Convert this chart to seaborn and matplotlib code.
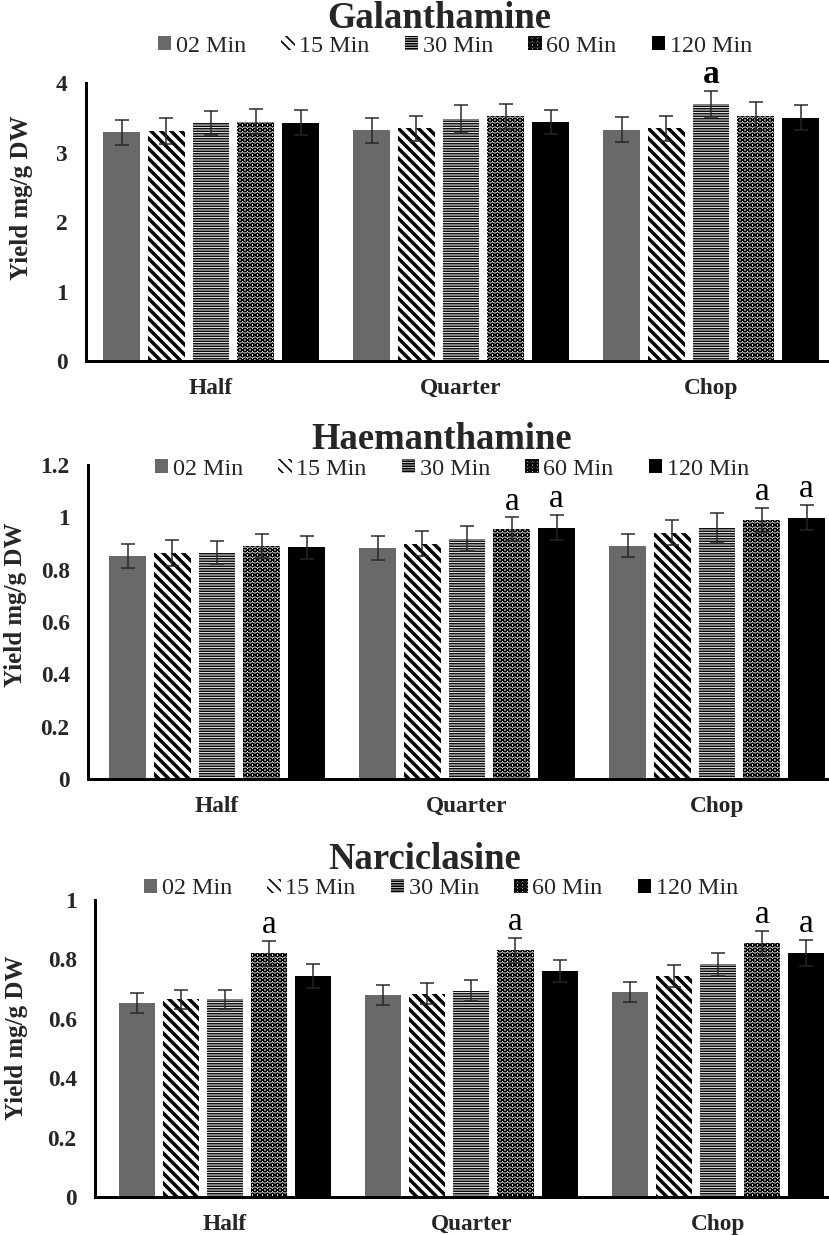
import matplotlib
matplotlib.use("Agg")
import matplotlib.pyplot as plt
import seaborn as sns
import pandas as pd
import numpy as np

# ---------------- data ----------------
cuts = ["Half", "Quarter", "Chop"]
times = ["02 Min", "15 Min", "30 Min", "60 Min", "120 Min"]

galan_02 = [3.29, 3.32, 3.33]
galan_15 = [3.31, 3.35, 3.35]
galan_30 = [3.42, 3.48, 3.70]
galan_60 = [3.44, 3.52, 3.53]
galan_120 = [3.43, 3.44, 3.50]
galan_err_02 = [0.18, 0.18, 0.18]
galan_err_15 = [0.19, 0.18, 0.18]
galan_err_30 = [0.17, 0.20, 0.19]
galan_err_60 = [0.18, 0.18, 0.20]
galan_err_120 = [0.18, 0.17, 0.18]

haem_02 = [0.852, 0.883, 0.892]
haem_15 = [0.865, 0.900, 0.941]
haem_30 = [0.865, 0.919, 0.960]
haem_60 = [0.890, 0.954, 0.990]
haem_120 = [0.885, 0.960, 0.999]
haem_err_02 = [0.045, 0.045, 0.045]
haem_err_15 = [0.050, 0.046, 0.047]
haem_err_30 = [0.045, 0.046, 0.058]
haem_err_60 = [0.045, 0.046, 0.047]
haem_err_120 = [0.045, 0.048, 0.047]

narc_02 = [0.654, 0.680, 0.690]
narc_15 = [0.665, 0.685, 0.745]
narc_30 = [0.665, 0.695, 0.783]
narc_60 = [0.820, 0.830, 0.854]
narc_120 = [0.744, 0.761, 0.822]
narc_err_02 = [0.034, 0.035, 0.035]
narc_err_15 = [0.033, 0.035, 0.037]
narc_err_30 = [0.033, 0.035, 0.040]
narc_err_60 = [0.042, 0.042, 0.042]
narc_err_120 = [0.040, 0.037, 0.043]

titles = ["Galanthamine", "Haemanthamine", "Narciclasine"]
ylims = [4.0, 1.2, 1.0]
ysteps = [1.0, 0.2, 0.2]
# significance letters: (cut index, time index)
sig_galan = [(2, 2)]
sig_haem = [(1, 3), (1, 4), (2, 3), (2, 4)]
sig_narc = [(0, 3), (1, 3), (2, 3), (2, 4)]

panels = [
    ([galan_02, galan_15, galan_30, galan_60, galan_120],
     [galan_err_02, galan_err_15, galan_err_30, galan_err_60, galan_err_120], sig_galan),
    ([haem_02, haem_15, haem_30, haem_60, haem_120],
     [haem_err_02, haem_err_15, haem_err_30, haem_err_60, haem_err_120], sig_haem),
    ([narc_02, narc_15, narc_30, narc_60, narc_120],
     [narc_err_02, narc_err_15, narc_err_30, narc_err_60, narc_err_120], sig_narc),
]

# ---------------- style ----------------
sns.set_theme(style="white")
SERIF = ["Liberation Serif", "DejaVu Serif"]
plt.rcParams["font.family"] = SERIF
plt.rcParams["hatch.linewidth"] = 2.0

W, H, DPI = 829, 1235, 60
fig = plt.figure(figsize=(W / DPI, H / DPI), dpi=DPI)

# axes boxes in pixels: left, right, top, bottom
boxes = [(86, 829, 83, 361), (88, 829, 465, 779), (95, 829, 900, 1197)]
xlims = [(-0.5, 2.472), (-0.516, 2.448), (-0.527, 2.451)]
title_pos = [(439, 28), (442, 449), (425, 869)]
legend_pos = [(455, 46), (452, 469), (441, 889)]
ylabel_x = [33, 27, 28]
ylabel_y = [198, 605, 1038]

face = ["#696969", "white", "#dcdcdc", "white", "black"]
hatches = [None, "\\\\", "----", "OO", None]
hatch_lw = [0, 4.2, 1.6, 1.6, 0]

for p, ((vals, errs, sig), box) in enumerate(zip(panels, boxes)):
    l, r, t, b = box
    ax = fig.add_axes([l / W, 1 - b / H, (r - l) / W, (b - t) / H])
    rows = []
    for ti, tname in enumerate(times):
        for ci, c in enumerate(cuts):
            rows.append({"Cut": c, "Time": tname, "Yield": vals[ti][ci]})
    df = pd.DataFrame(rows)
    sns.barplot(data=df, x="Cut", y="Yield", hue="Time", order=cuts,
                hue_order=times, palette=face, width=0.895, gap=0.18,
                errorbar=None, legend=False, ax=ax, saturation=1)
    bar_conts = list(ax.containers)
    for ti, cont in enumerate(bar_conts):
        xs, ys = [], []
        for ci, bar in enumerate(cont):
            bar.set_facecolor(face[ti])
            if hatches[ti]:
                bar.set_hatch(hatches[ti])
                bar.set_edgecolor("black")
                if hasattr(bar, "set_hatch_linewidth"):
                    bar.set_hatch_linewidth(hatch_lw[ti])
            else:
                bar.set_edgecolor(face[ti])
            bar.set_linewidth(0)
            xs.append(bar.get_x() + bar.get_width() / 2)
            ys.append(bar.get_height())
        ax.errorbar(xs, ys, yerr=errs[ti], fmt="none", ecolor="#262626",
                    elinewidth=1.8, capsize=8, capthick=1.8, zorder=5)
        for (ci, tj) in sig:
            if tj == ti:
                ax.annotate("a", (xs[ci], ys[ci] + errs[ti][ci]),
                            xytext=(0, 1), textcoords="offset points",
                            ha="center", va="bottom", fontsize=40,
                            fontweight="bold" if p == 0 else "normal",
                            color="black", zorder=6)

    ax.set_xlim(*xlims[p])
    ax.set_ylim(0, ylims[p])
    ticks = np.arange(0, ylims[p] + 1e-9, ysteps[p])
    ax.set_yticks(ticks)
    ax.set_yticklabels([f"{v:g}" for v in ticks], fontsize=28, fontweight="bold")
    ax.set_xticks(range(len(cuts)))
    ax.set_xticklabels(cuts, fontsize=28, fontweight="bold")
    ax.tick_params(axis="both", length=0)
    ax.tick_params(axis="y", pad=22)
    ax.tick_params(axis="x", pad=20)
    ax.set_xlabel("")
    ax.set_ylabel("Yield mg/g DW", fontsize=30, fontweight="bold")
    ax.yaxis.set_label_coords((ylabel_x[p] - l) / (r - l), (b - ylabel_y[p]) / (b - t))
    for s in ["top", "right"]:
        ax.spines[s].set_visible(False)
    for s in ["left", "bottom"]:
        ax.spines[s].set_color("black")
        ax.spines[s].set_linewidth(3.6)
    ax.grid(False)

    fig.text(title_pos[p][0] / W, 1 - title_pos[p][1] / H, titles[p],
             ha="center", va="baseline", fontsize=44, fontweight="bold")
    fig.legend(handles=bar_conts, labels=times,
               loc="center", bbox_to_anchor=(legend_pos[p][0] / W, 1 - legend_pos[p][1] / H),
               ncol=5, frameon=False, prop={"family": SERIF, "size": 29},
               handlelength=0.55, handleheight=0.55, handletextpad=0.2,
               columnspacing=1.45, borderpad=0, borderaxespad=0)

fig.savefig("out.png", dpi=DPI)
